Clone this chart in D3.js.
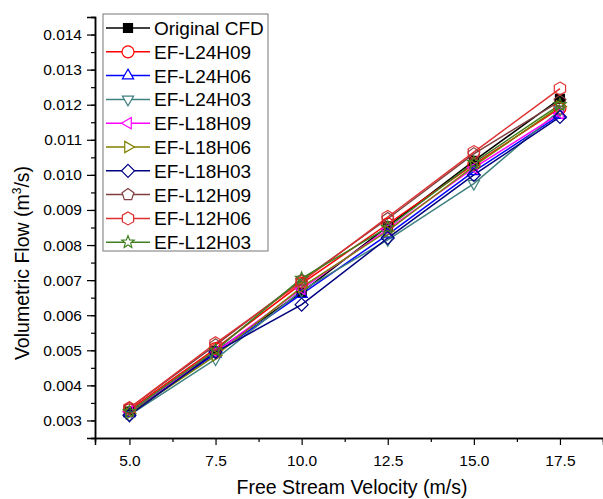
<!DOCTYPE html>
<html>
<head>
<meta charset="utf-8">
<script src="https://cdn.jsdelivr.net/npm/d3@7"></script>
<style>
  body { margin: 0; background: #fff; }
  svg { font-family: "Liberation Sans", Arial, sans-serif; }
</style>
</head>
<body>
<svg id="chart" width="603" height="499"></svg>
<script>
var velocity = [5, 7.5, 10, 12.5, 15, 17.5];

var seriesNames = ["Original CFD", "EF-L24H09", "EF-L24H06", "EF-L24H03", "EF-L18H09",
  "EF-L18H06", "EF-L18H03", "EF-L12H09", "EF-L12H06", "EF-L12H03"];

var originalCFD = [0.00325, 0.00497, 0.00665, 0.00853, 0.01040, 0.01217];
var l24h09 = [0.00330, 0.00505, 0.00690, 0.00860, 0.01030, 0.01190];
var l24h06 = [0.00320, 0.00490, 0.00660, 0.00830, 0.01010, 0.01170];
var l24h03 = [0.00315, 0.00475, 0.00670, 0.00815, 0.00975, 0.01185];
var l18h09 = [0.00325, 0.00495, 0.00675, 0.00845, 0.01020, 0.01175];
var l18h06 = [0.00320, 0.00485, 0.00680, 0.00840, 0.01025, 0.01195];
var l18h03 = [0.00315, 0.00495, 0.00630, 0.00820, 0.01000, 0.01165];
var l12h09 = [0.00335, 0.00515, 0.00700, 0.00875, 0.01060, 0.01210];
var l12h06 = [0.00335, 0.00520, 0.00695, 0.00880, 0.01065, 0.01246];
var l12h03 = [0.00325, 0.00500, 0.00705, 0.00850, 0.01035, 0.01200];

var seriesValues = [originalCFD, l24h09, l24h06, l24h03, l18h09, l18h06, l18h03, l12h09, l12h06, l12h03];
var colors = ["#000000", "#ff0000", "#0000ff", "#408080", "#ff00ff", "#808000", "#000080", "#804040", "#e03030", "#408020"];
var shapes = ["square", "circle", "up", "down", "left", "right", "diamond", "pentagon", "hexagon", "star"];

var yTicks = [0.003, 0.004, 0.005, 0.006, 0.007, 0.008, 0.009, 0.010, 0.011, 0.012, 0.013, 0.014];
var xTicks = [5, 7.5, 10, 12.5, 15, 17.5];

var svg = d3.select("#chart");

var x = d3.scaleLinear().domain([4, 18.75]).range([95, 603]);
var y = d3.scaleLinear().domain([0.0025, 0.0145]).range([438, 17]);

// polygon helper, r = radius, n sides, start angle a0 (radians, 0 = up)
function poly(n, r, a0) {
  var pts = [];
  for (var i = 0; i < n; i++) {
    var a = a0 + i * 2 * Math.PI / n;
    pts.push([r * Math.sin(a), -r * Math.cos(a)]);
  }
  return "M" + pts.map(function(p) { return p[0].toFixed(2) + "," + p[1].toFixed(2); }).join("L") + "Z";
}

function markerPath(shape) {
  var r = 6;
  switch (shape) {
    case "square": return "M-4.5,-4.5H4.5V4.5H-4.5Z";
    case "circle": return "M" + r + ",0A" + r + "," + r + " 0 1,1 -" + r + ",0A" + r + "," + r + " 0 1,1 " + r + ",0Z";
    case "up": return poly(3, 6.5, 0);
    case "down": return poly(3, 6.5, Math.PI);
    case "left": return poly(3, 6.5, -Math.PI / 2);
    case "right": return poly(3, 6.5, Math.PI / 2);
    case "diamond": return poly(4, 6.5, 0);
    case "pentagon": return poly(5, 6.2, 0);
    case "hexagon": return poly(6, 6.5, 0);
    case "star":
      var pts = [];
      for (var i = 0; i < 10; i++) {
        var rr = i % 2 ? 2.8 : 6.5;
        var a = i * Math.PI / 5;
        pts.push([rr * Math.sin(a), -rr * Math.cos(a)]);
      }
      return "M" + pts.map(function(p) { return p[0].toFixed(2) + "," + p[1].toFixed(2); }).join("L") + "Z";
  }
}

//axes
var yAxis = d3.axisLeft(y).tickValues(yTicks).tickFormat(d3.format(".3f")).tickSize(8).tickPadding(5);
var yMinor = d3.axisLeft(y).tickValues(d3.range(0.0025, 0.01451, 0.0005)).tickFormat("").tickSize(4);
var xAxis = d3.axisBottom(x).tickValues(xTicks).tickFormat(d3.format(".1f")).tickSize(7).tickPadding(10);
var xMinor = d3.axisBottom(x).tickValues(d3.range(6.25, 18.8, 2.5)).tickFormat("").tickSize(4);

function styleAxis(g) {
  g.select(".domain").attr("stroke", "#000").attr("stroke-width", 1.5);
  g.selectAll(".tick line").attr("stroke", "#000").attr("stroke-width", 1.2);
  g.selectAll(".tick text").attr("fill", "#000").attr("font-size", 15.5);
}

svg.append("g").attr("transform", "translate(95,0)").call(yMinor).call(styleAxis);
svg.append("g").attr("transform", "translate(95,0)").call(yAxis).call(styleAxis);
svg.append("g").attr("transform", "translate(0,438)").call(xMinor).call(styleAxis);
svg.append("g").attr("transform", "translate(0,438)").call(xAxis).call(styleAxis);

//axis titles
svg.append("text")
  .attr("x", 352).attr("y", 494)
  .attr("text-anchor", "middle")
  .attr("font-size", 19.5)
  .text("Free Stream Velocity (m/s)");

var yt = svg.append("text")
  .attr("transform", "translate(29,263) rotate(-90)")
  .attr("text-anchor", "middle")
  .attr("font-size", 19.5);
yt.append("tspan").text("Volumetric Flow (m");
yt.append("tspan").attr("font-size", 12).attr("dy", -8).text("3");
yt.append("tspan").attr("dy", 8).text("/s)");

//lines
var line = d3.line()
  .x(function(d, i) { return x(velocity[i]); })
  .y(function(d) { return y(d); });

seriesValues.forEach(function(vals, k) {
  svg.append("path")
    .attr("d", line(vals))
    .attr("fill", "none")
    .attr("stroke", colors[k])
    .attr("stroke-width", 1.5);
});

//markers
seriesValues.forEach(function(vals, k) {
  svg.selectAll(".m" + k).data(vals).enter()
    .append("path")
    .attr("class", "m" + k)
    .attr("d", markerPath(shapes[k]))
    .attr("transform", function(d, i) { return "translate(" + x(velocity[i]) + "," + y(d) + ")"; })
    .attr("fill", k == 0 ? "#000" : "none")
    .attr("stroke", colors[k])
    .attr("stroke-width", 1.2);
});

//legend
var legend = svg.append("g");
legend.append("rect")
  .attr("x", 103).attr("y", 14)
  .attr("width", 165).attr("height", 237)
  .attr("fill", "#fff")
  .attr("stroke", "#777")
  .attr("stroke-width", 1);

seriesNames.forEach(function(name, k) {
  var cy = 28 + k * 23.8;
  legend.append("line")
    .attr("x1", 106).attr("x2", 150)
    .attr("y1", cy).attr("y2", cy)
    .attr("stroke", colors[k]).attr("stroke-width", 1.5);
  legend.append("path")
    .attr("d", markerPath(shapes[k]))
    .attr("transform", "translate(128," + cy + ")")
    .attr("fill", k == 0 ? "#000" : "#fff")
    .attr("stroke", colors[k])
    .attr("stroke-width", 1.2);
  legend.append("text")
    .attr("x", 154).attr("y", cy + 7)
    .attr("font-size", 19)
    .text(name);
});
</script>
</body>
</html>
